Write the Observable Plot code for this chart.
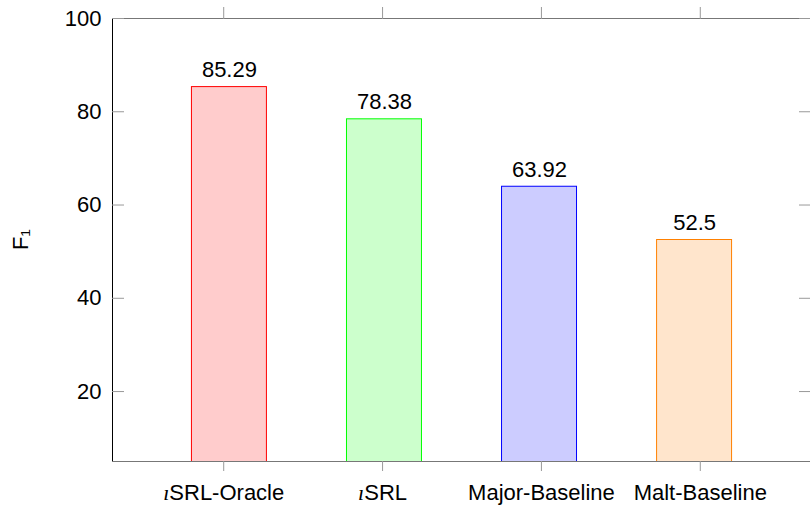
<!DOCTYPE html>
<html><head><meta charset="utf-8">
<script src="https://cdn.jsdelivr.net/npm/d3@7"></script>
<script src="https://cdn.jsdelivr.net/npm/@observablehq/plot@0.6"></script>
<style>html,body{margin:0;padding:0;background:#fff;overflow:hidden}</style>
</head><body><div id="chart"></div>
<script>
// ---- data ----
const methods = ["ıSRL-Oracle", "ıSRL", "Major-Baseline", "Malt-Baseline"];
const f1Scores = [85.29, 78.38, 63.92, 52.5];
const yTicks = [20, 40, 60, 80, 100];
const yLabel = "F₁";

// ---- styles ----
const fills = ["#ffcccc", "#ccffcc", "#ccccff", "#ffe5cc"];
const strokes = ["#ff0000", "#00ff00", "#0000ff", "#ff8000"];
const axisGray = "#777";
const tickGray = "#999";
const font = "'Liberation Sans', Arial, sans-serif";

const data = methods.map((m, i) => ({i, method: m, f1: f1Scores[i]}));
const barHalf = 0.236;
const shift = i => (1.5 - i) * 0.024;

const chart = Plot.plot({
  width: 810, height: 505,
  marginLeft: 112, marginTop: 18, marginBottom: 44, marginRight: 0,
  style: {fontFamily: font, fontSize: "22px", background: "#fff", color: "#000"},
  color: {type: "identity"},
  x: {type: "linear", domain: [-0.7, 3.7], range: [112, 811]},
  y: {domain: [5, 100], range: [461, 18]},
  marks: [
    Plot.rectY(data, {
      x1: d => d.i + shift(d.i) - barHalf,
      x2: d => d.i + shift(d.i) + barHalf,
      y1: 0, y2: "f1",
      fill: d => fills[d.i], stroke: d => strokes[d.i], strokeWidth: 1, clip: true
    }),
    Plot.text(data, {x: d => d.i + shift(d.i), y: "f1", text: d => String(d.f1), dy: -17, fontSize: 22}),
    Plot.ruleY([5], {stroke: axisGray}),
    Plot.ruleY([100], {stroke: axisGray}),
    Plot.ruleX([-0.7], {stroke: "black"}),
    Plot.axisY(yTicks, {anchor: "left", tickSize: 0, tickPadding: 11, label: null, fontSize: 22}),
    Plot.axisY(yTicks, {anchor: "left", tickSize: -12, tickFormat: () => "", label: null, stroke: tickGray}),
    Plot.axisY(yTicks, {anchor: "right", tickSize: -12, tickFormat: () => "", label: null, stroke: tickGray}),
    Plot.axisX([0, 1, 2, 3], {anchor: "top", tickSize: 12, tickFormat: () => "", label: null, stroke: tickGray}),
    Plot.axisX([0, 1, 2, 3], {anchor: "bottom", tickSize: 10, tickPadding: 13, tickFormat: i => methods[i], label: null, stroke: tickGray, fontSize: 22}),
    Plot.text([yLabel], {frameAnchor: "left", dx: -92, dy: 10, rotate: -90, fontSize: 22})
  ]
});

// italic dotless i as in the original (math italic ı)
chart.querySelectorAll('g[aria-label="x-axis tick label"] text').forEach(t => {
  const s = t.textContent;
  if (s.startsWith("ı")) {
    t.textContent = "";
    const ts = document.createElementNS("http://www.w3.org/2000/svg", "tspan");
    ts.setAttribute("font-family", "'Liberation Serif', serif");
    ts.setAttribute("font-style", "italic");
    ts.textContent = "ı";
    t.appendChild(ts);
    t.appendChild(document.createTextNode(s.slice(1)));
  }
});

document.getElementById("chart").appendChild(chart);
</script>
</body></html>
